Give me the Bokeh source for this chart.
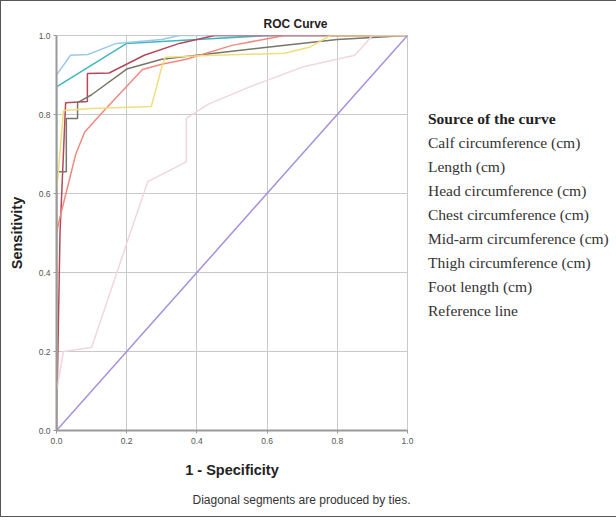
from bokeh.plotting import figure
from bokeh.models import Range1d, Legend, LegendItem, Title, FixedTicker
from bokeh.embed import file_html
from bokeh.resources import INLINE

# ---- data ----
ticks = [0.0, 0.2, 0.4, 0.6, 0.8, 1.0]
tick_labels = ["0.0", "0.2", "0.4", "0.6", "0.8", "1.0"]

names = ["Calf circumference (cm)", "Length (cm)", "Head circumference (cm)",
         "Chest circumference (cm)", "Mid-arm circumference (cm)",
         "Thigh circumference (cm)", "Foot length (cm)", "Reference line"]

calf_x = [0, 0, 0.2, 0.4, 0.6, 1]
calf_y = [0, 0.87, 0.98, 0.99, 1.0, 1]

length_x = [0, 0, 0.04, 0.09, 0.17, 0.3, 0.35, 1]
length_y = [0, 0.9, 0.95, 0.952, 0.98, 0.99, 1.0, 1]

head_x = [0, 0.01, 0.026, 0.088, 0.088, 0.15, 0.25, 0.35, 0.45, 1]
head_y = [0, 0.5, 0.83, 0.833, 0.904, 0.905, 0.95, 0.98, 1.0, 1]

chest_x = [0, 0, 0.028, 0.028, 0.06, 0.06, 0.1, 0.2, 0.3, 0.6, 0.8, 1]
chest_y = [0, 0.655, 0.655, 0.79, 0.79, 0.83, 0.85, 0.915, 0.94, 0.97, 0.99, 1]

midarm_x = [0, 0, 0.01, 0.055, 0.08, 0.12, 0.165, 0.245, 0.3, 0.37, 0.5, 0.65, 1]
midarm_y = [0, 0.5, 0.54, 0.70, 0.755, 0.795, 0.838, 0.914, 0.927, 0.94, 0.975, 1.0, 1]

thigh_x = [0, 0, 0.02, 0.1, 0.27, 0.3, 0.31, 0.45, 0.65, 0.72, 0.78, 1]
thigh_y = [0, 0.6, 0.81, 0.815, 0.82, 0.92, 0.945, 0.95, 0.955, 0.97, 1.0, 1]

foot_x = [0, 0, 0.02, 0.1, 0.21, 0.26, 0.37, 0.37, 0.43, 0.55, 0.7, 0.85, 0.9, 1]
foot_y = [0, 0.1, 0.2, 0.21, 0.5, 0.63, 0.68, 0.79, 0.825, 0.87, 0.92, 0.95, 1.0, 1]

ref_x = [0, 1]
ref_y = [0, 1]

series = [
    (calf_x, calf_y, "#3fb7bd"),
    (length_x, length_y, "#9cc9ea"),
    (head_x, head_y, "#b5485c"),
    (chest_x, chest_y, "#76766a"),
    (midarm_x, midarm_y, "#f08a80"),
    (thigh_x, thigh_y, "#f1de7a"),
    (foot_x, foot_y, "#f3d5de"),
    (ref_x, ref_y, "#a58ee0"),
]

p = figure(output_backend="svg", toolbar_location=None,
           frame_width=351, frame_height=395,
           min_border_left=55, min_border_top=34,
           min_border_right=196, min_border_bottom=77,
           x_range=Range1d(0, 1), y_range=Range1d(0, 1),
           background_fill_color="white", border_fill_color="white")
p.styles = {"border": "1px solid #555555"}

# title
p.title.text = "ROC Curve"
p.title.align = "left"
p.title.offset = 207
p.title.text_font = "Liberation Sans"
p.title.text_font_size = "12px"
p.title.text_font_style = "bold"
p.title.text_color = "#222222"
p.title.standoff = 10

p.outline_line_color = "#c8c8c8"
p.outline_line_width = 1

for ax in (p.xaxis[0], p.yaxis[0]):
    ax.ticker = FixedTicker(ticks=ticks)
    ax.major_label_overrides = {t: l for t, l in zip(ticks, tick_labels)}
    ax.minor_tick_line_color = None
    ax.major_tick_in = 0
    ax.major_tick_out = 3
    ax.major_tick_line_color = "#999999"
    ax.axis_line_color = "#9a9a9a"
    ax.axis_line_width = 2
    ax.major_label_text_font = "Liberation Sans"
    ax.major_label_text_font_size = "8.5px"
    ax.major_label_text_color = "#555555"
    ax.axis_label_text_font = "Liberation Sans"
    ax.axis_label_text_font_size = "14.5px"
    ax.axis_label_text_font_style = "bold"
    ax.axis_label_text_color = "#222222"

p.xaxis.axis_label = "1 - Specificity"
p.yaxis.axis_label = "Sensitivity"
p.xaxis.axis_label_standoff = 15
p.yaxis.axis_label_standoff = 11
p.xaxis.major_label_standoff = 4
p.yaxis.major_label_standoff = 3

p.grid.grid_line_color = "#c9c9c9"
p.grid.grid_line_width = 1
p.xgrid.ticker = FixedTicker(ticks=ticks)
p.ygrid.ticker = FixedTicker(ticks=ticks)

items = []
for (xs, ys, col), nm in zip(series, names):
    r = p.line(xs, ys, line_color=col, line_width=1.5)
    items.append(LegendItem(label=nm, renderers=[r]))

note = Title(text="Diagonal segments are produced by ties.", align="left",
             offset=136, text_font="Liberation Sans", text_font_size="12px",
             text_font_style="normal", text_color="#333333", standoff=20)
p.add_layout(note, "below")

legend = Legend(items=items, location=(21, 110))
legend.title = "Source of the curve"
legend.title_text_font = "Liberation Serif"
legend.title_text_font_size = "15.5px"
legend.title_text_font_style = "bold"
legend.title_text_color = "#222222"
legend.title_standoff = 6
legend.label_text_font = "Liberation Serif"
legend.label_text_font_size = "15.5px"
legend.label_text_color = "#333333"
legend.glyph_width = 0
legend.glyph_height = 14
legend.label_standoff = 0
legend.label_height = 14
legend.spacing = 6
legend.padding = 0
legend.margin = 0
legend.border_line_color = None
legend.background_fill_alpha = 0
p.add_layout(legend, "right")

open("out.html", "w").write(file_html(p, INLINE))
